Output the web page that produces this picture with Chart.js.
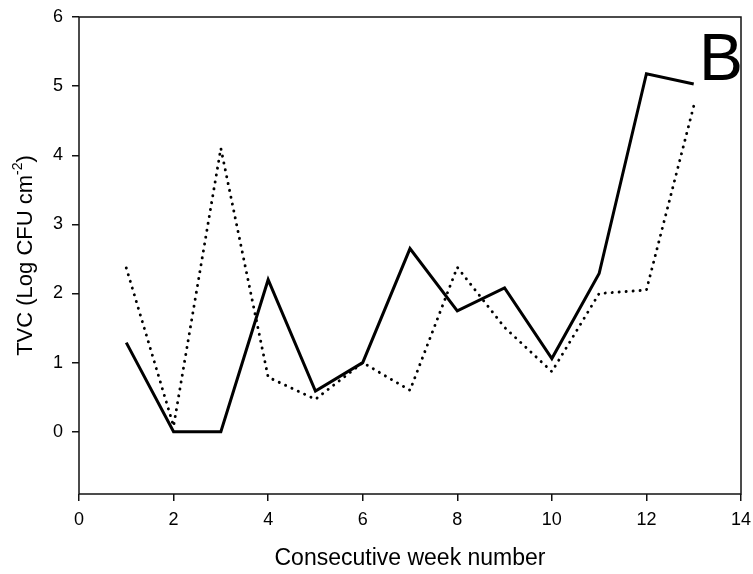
<!DOCTYPE html>
<html>
<head>
<meta charset="utf-8">
<script src="https://cdn.jsdelivr.net/npm/chart.js@4/dist/chart.umd.min.js"></script>
<style>
  html, body { margin: 0; padding: 0; background: #fff; }
  #wrap { width: 753px; height: 574px; }
</style>
</head>
<body>
<div id="wrap"><canvas id="c" width="753" height="574"></canvas></div>
<script>
// ---- data ----
const weeks = [1, 2, 3, 4, 5, 6, 7, 8, 9, 10, 11, 12, 13];
const solidSeries  = [1.29, 0, 0, 2.20, 0.59, 1.00, 2.65, 1.75, 2.08, 1.06, 2.29, 5.18, 5.03];
const dottedSeries = [2.37, 0.08, 4.10, 0.79, 0.47, 1.00, 0.60, 2.38, 1.51, 0.87, 2.00, 2.05, 4.71];
const xTicks = [0, 2, 4, 6, 8, 10, 12, 14];
const yTicks = [0, 1, 2, 3, 4, 5, 6];
const xTitle = 'Consecutive week number';
const yTitleMain = 'TVC (Log CFU cm';
const yTitleSup = '-2';
const yTitleEnd = ')';
const panelLabel = 'B';

const FONT = 'Arial, "Liberation Sans", sans-serif';

const toPoints = vals => weeks.map((w, i) => ({ x: w, y: vals[i] }));

const framePlugin = {
  id: 'frame',
  afterDraw(chart) {
    const { ctx, chartArea: a } = chart;
    ctx.save();
    ctx.strokeStyle = '#111';
    ctx.lineWidth = 1.5;
    ctx.strokeRect(a.left, a.top, a.right - a.left, a.bottom - a.top);
    // panel letter
    ctx.fillStyle = '#000';
    ctx.font = '66px ' + FONT;
    ctx.textAlign = 'left';
    ctx.textBaseline = 'alphabetic';
    ctx.fillText(panelLabel, 699, 80);
    // y title with superscript
    const cy = (a.top + a.bottom) / 2;
    ctx.translate(26, cy);
    ctx.rotate(-Math.PI / 2);
    const mainFont = '22px ' + FONT;
    const supFont = '14px ' + FONT;
    ctx.font = mainFont;
    const w1 = ctx.measureText(yTitleMain).width;
    const w3 = ctx.measureText(yTitleEnd).width;
    ctx.font = supFont;
    const w2 = ctx.measureText(yTitleSup).width;
    const total = w1 + w2 + w3;
    let x = -total / 2;
    ctx.textBaseline = 'middle';
    ctx.font = mainFont;
    ctx.fillText(yTitleMain, x, 0);
    x += w1;
    ctx.font = supFont;
    ctx.fillText(yTitleSup, x, -8);
    x += w2;
    ctx.font = mainFont;
    ctx.fillText(yTitleEnd, x, 0);
    ctx.restore();
  }
};

new Chart(document.getElementById('c'), {
  type: 'line',
  data: {
    datasets: [
      {
        label: 'Series 1',
        data: toPoints(solidSeries),
        borderColor: '#000',
        borderWidth: 3,
        borderJoinStyle: 'miter',
        pointRadius: 0,
        tension: 0,
        fill: false
      },
      {
        label: 'Series 2',
        data: toPoints(dottedSeries),
        borderColor: '#000',
        borderWidth: 2.9,
        borderDash: [0.1, 6.9],
        borderCapStyle: 'round',
        pointRadius: 0,
        tension: 0,
        fill: false
      }
    ]
  },
  options: {
    responsive: false,
    animation: false,
    layout: { padding: { top: 17, right: 12, left: 0, bottom: 0 } },
    plugins: { legend: { display: false }, tooltip: { enabled: false } },
    scales: {
      x: {
        type: 'linear',
        min: 0,
        max: 14,
        afterBuildTicks: s => { s.ticks = xTicks.map(v => ({ value: v })); },
        afterFit: s => { s.height = 80; s.paddingLeft = 0; s.paddingRight = 0; },
        grid: { display: true, drawOnChartArea: false, drawTicks: true, tickLength: 7, color: '#111', lineWidth: 1.5 },
        border: { display: false },
        ticks: { color: '#000', font: { family: FONT, size: 18 }, padding: 8, maxRotation: 0 },
        title: { display: true, text: xTitle, color: '#000', font: { family: FONT, size: 23 }, padding: { top: 0, bottom: 2 } }
      },
      y: {
        type: 'linear',
        min: -0.9,
        max: 6,
        afterBuildTicks: s => { s.ticks = yTicks.map(v => ({ value: v })); },
        afterFit: s => { s.width = 79; s.paddingTop = 0; s.paddingBottom = 0; },
        grid: { display: true, drawOnChartArea: false, drawTicks: true, tickLength: 7, color: '#111', lineWidth: 1.5 },
        border: { display: false },
        ticks: { color: '#000', font: { family: FONT, size: 18 }, padding: 9 }
      }
    }
  },
  plugins: [framePlugin]
});
</script>
</body>
</html>
